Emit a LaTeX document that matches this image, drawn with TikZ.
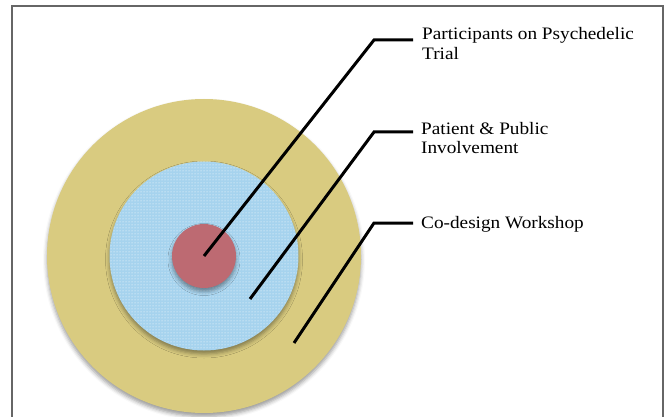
\documentclass[tikz,border=0pt]{standalone}
\usepackage{fontspec}
\setmainfont{Liberation Serif}[FakeStretch=1.1]
\usetikzlibrary{shadows.blur,patterns}
\definecolor{outerc}{HTML}{D9CB80}
\definecolor{midc}{HTML}{A6D3EE}
\definecolor{innerc}{HTML}{BD6A72}
\definecolor{framec}{HTML}{666666}
\tikzset{
  ring/.style={circle, inner sep=0pt, blur shadow={shadow xshift=0pt, shadow yshift=-3.5pt, shadow blur radius=4pt, shadow opacity=40}},
  leader/.style={line width=3pt, black, line join=miter},
  lbl/.style={anchor=base west, inner sep=0pt, align=left, font=\fontsize{17.5}{20}\selectfont}
}
\begin{document}
\begin{tikzpicture}[x=1pt,y=-1pt]
\useasboundingbox (0,0) rectangle (667,417);
\draw[framec, line width=1.5pt] (12,420) -- (12,6) -- (663,6) -- (663,420);
\node[ring, fill=outerc, minimum size=314pt] (outer) at (204,256) {};
\node[ring, fill=midc, minimum size=189pt] (mid) at (204,256) {};
\fill[pattern=dots, pattern color=white] (mid.center) circle[radius=94.5];
\node[ring, fill=innerc, minimum size=64pt] (inner) at (204,256) {};
\node[lbl] (t1) at (422,60) {Participants on Psychedelic\\Trial};
\node[lbl] (t2) at (421,154) {Patient \& Public\\Involvement};
\node[lbl] (t3) at (421,229) {Co-design Workshop};
\coordinate (s2) at (250,299);
\coordinate (s3) at (294,343);
\coordinate (k1) at (374,40);
\coordinate (k2) at (374,132);
\coordinate (k3) at (374,223);
\coordinate (e1) at (413,40);
\coordinate (e2) at (413,132);
\coordinate (e3) at (413,223);
\draw[leader] (inner.center) -- (k1) -- (e1);
\draw[leader] (s2) -- (k2) -- (e2);
\draw[leader] (s3) -- (k3) -- (e3);
\end{tikzpicture}
\end{document}
